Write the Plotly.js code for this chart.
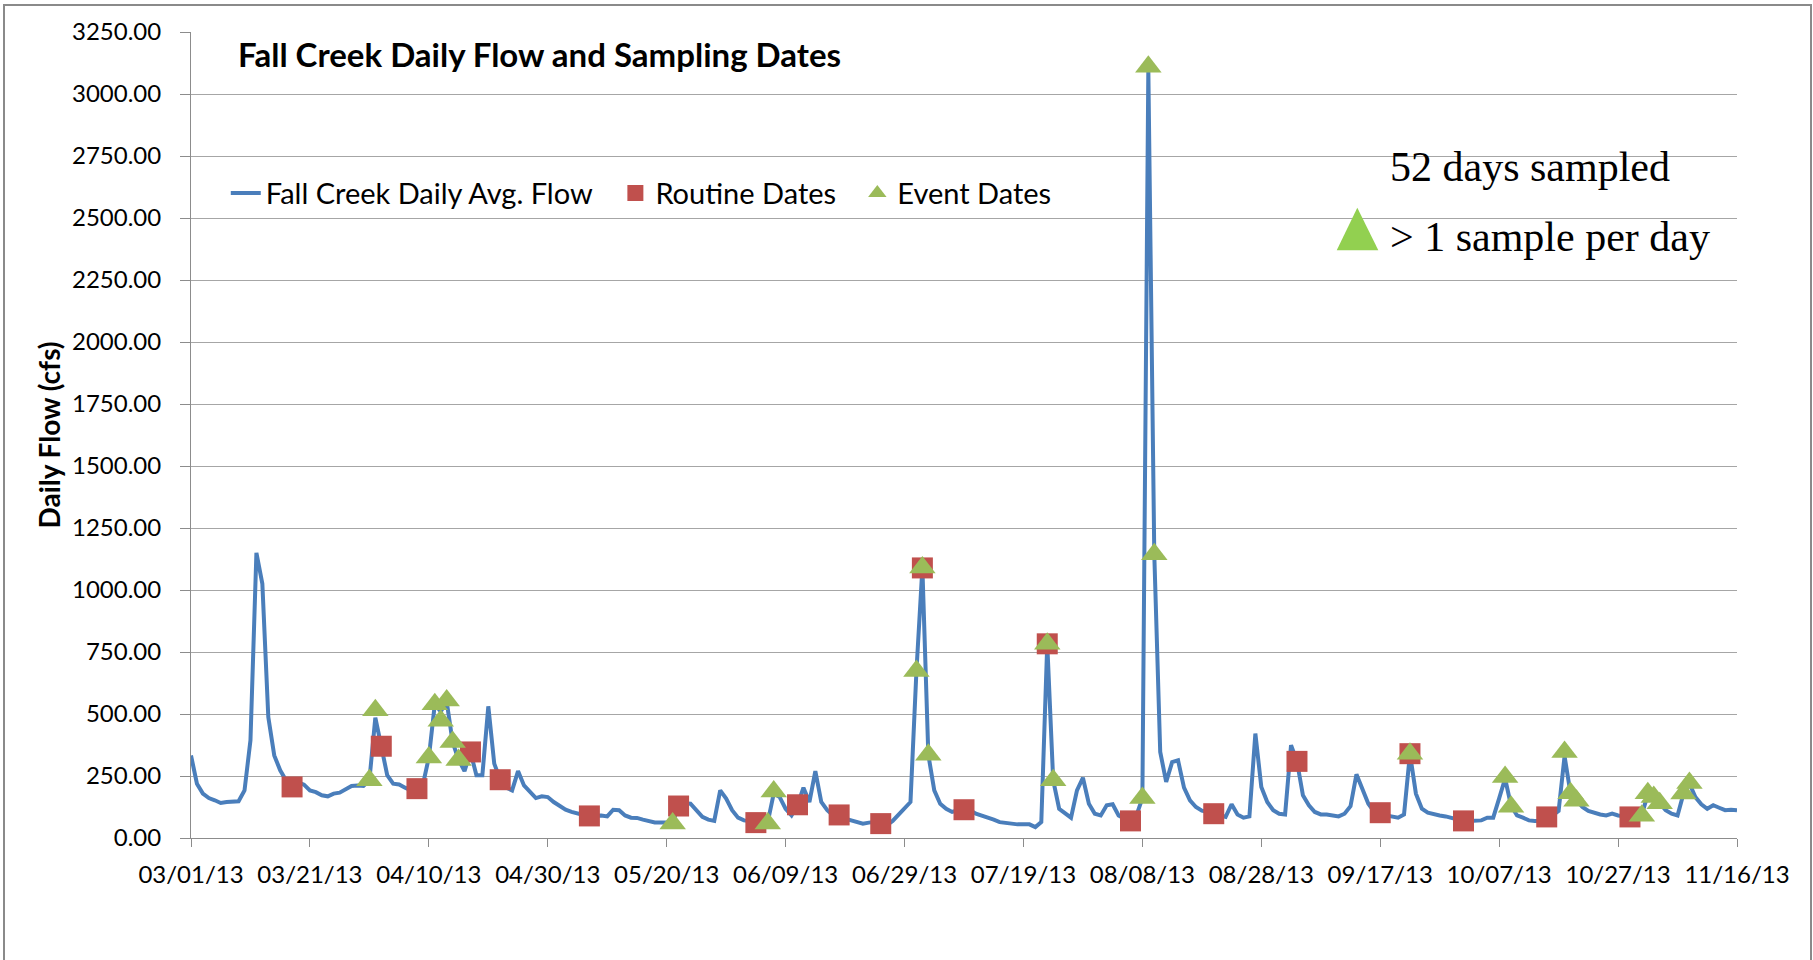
<!DOCTYPE html>
<html><head><meta charset="utf-8">
<script src="https://cdn.plot.ly/plotly-3.0.1.min.js"></script>
<style>
html,body{margin:0;padding:0;background:#fff;overflow:hidden;}
#chart{width:1813px;height:960px;}
#frame{position:absolute;left:3px;top:4px;width:1805px;height:1000px;border:2px solid #8a8a8a;pointer-events:none;}
</style></head><body>
<div id="chart"></div><div id="frame"></div>
<script>
// Daily average flow (cfs), one value per day starting 03/01/13
const startDate = '2013-03-01';
const dailyFlow = [
  333,219,179,161,152,141,145,148,148,192,
  394,1150,1025,488,333,273,232,210,225,215,
  192,185,172,168,179,183,195,210,212,210,
  233,485,370,253,219,216,203,192,199,215,
  325,539,510,550,387,315,270,347,253,253,
  531,300,235,203,192,270,212,185,161,168,
  165,145,128,114,105,98,93,90,91,91,
  87,114,112,91,82,81,74,67,63,63,
  63,63,129,140,138,112,85,74,69,192,
  159,112,82,71,67,65,69,65,179,165,
  118,91,132,203,145,270,145,112,91,90,
  78,71,64,58,62,64,60,51,69,95,
  120,145,673,1089,336,192,138,118,105,112,
  114,112,98,91,85,74,64,60,58,55,
  55,55,44,64,783,233,118,98,82,192,
  243,138,98,91,132,136,91,78,69,91,
  161,3100,1144,347,226,306,313,203,152,125,
  110,105,98,89,85,136,95,82,87,421,
  206,145,112,98,95,374,309,172,132,105,
  95,95,91,87,98,128,257,192,138,105,
  102,91,85,82,95,340,179,118,102,95,
  91,87,81,74,69,69,69,71,82,82,
  160,240,130,91,82,71,69,69,78,91,
  109,330,180,150,125,109,101,95,91,98,
  91,87,85,91,96,175,160,140,112,98,
  91,179,220,165,136,118,132,122,112,114,
  112
];

const routineDates = ['2013-03-18','2013-04-02','2013-04-08','2013-04-17','2013-04-22','2013-05-07',
  '2013-05-22','2013-06-04','2013-06-11','2013-06-18','2013-06-25','2013-07-02','2013-07-09',
  '2013-07-23','2013-08-06','2013-08-20','2013-09-03','2013-09-17','2013-09-22','2013-10-01',
  '2013-10-15','2013-10-29'];
const routineFlow = [206,370,199,347,235,89,129,62,134,93,58,1089,114,783,69,98,309,102,340,69,85,85];

const eventDates = ['2013-03-31','2013-04-01','2013-04-10','2013-04-11','2013-04-12','2013-04-13',
  '2013-04-14','2013-04-15','2013-05-21','2013-06-06','2013-06-07','2013-07-01','2013-07-02',
  '2013-07-03','2013-07-23','2013-07-24','2013-08-08','2013-08-09','2013-08-10','2013-09-22',
  '2013-10-08','2013-10-09','2013-10-18','2013-10-19','2013-10-20','2013-10-31','2013-11-01',
  '2013-11-02','2013-11-03','2013-11-07','2013-11-08'];
const eventFlow = [233,515,325,539,473,554,387,315,58,58,187,673,1091,336,783,233,161,3110,1144,340,
  246,126,347,180,150,90,180,165,140,179,222];

const seriesNames = ['Fall Creek Daily Avg. Flow','Routine Dates','Event Dates'];
const xRange = ['2013-03-01','2013-11-16'];
const yRange = [0, 3250];
const titleText = 'Fall Creek Daily Flow and Sampling Dates';
const yTitle = 'Daily Flow (cfs)';
const noteLines = ['52 days sampled','> 1 sample per day'];

const DAY = 86400000;
const axisGray = '#8c8c8c';

const traces = [
  {type:'scatter', mode:'lines', name:seriesNames[0], x0:startDate, dx:DAY, y:dailyFlow,
   line:{color:'#4A7EBB', width:4}, legend:'legend', hoverinfo:'skip'},
  {type:'scatter', mode:'markers', name:seriesNames[1], x:routineDates, y:routineFlow,
   marker:{symbol:'square', size:21, color:'#C0504D', line:{width:0}}, legend:'legend2', cliponaxis:false},
  {type:'scatter', mode:'markers', name:seriesNames[2], x:eventDates, y:eventFlow,
   marker:{symbol:'triangle-up', size:23, color:'#9BBB59', line:{width:0}}, legend:'legend3', cliponaxis:false}
];

const legendBase = {orientation:'h', xanchor:'left', yanchor:'middle', y:0.80,
  bgcolor:'rgba(0,0,0,0)', font:{family:'Lato', size:29, color:'#000'}};

const layout = {
  width:1813, height:960,
  margin:{l:191, r:76, t:32, b:122, pad:0},
  paper_bgcolor:'#fff', plot_bgcolor:'#fff',
  font:{family:'Lato', color:'#000'},
  showlegend:true,
  legend:Object.assign({}, legendBase, {x:0.0225}),
  legend2:Object.assign({}, legendBase, {x:0.2745}),
  legend3:Object.assign({}, legendBase, {x:0.431}),
  xaxis:{type:'date', range:xRange, tick0:xRange[0], dtick:20*DAY, tickformat:'%m/%d/%y',
    ticks:'outside', ticklen:8, tickwidth:1, tickcolor:axisGray,
    showline:true, linecolor:axisGray, linewidth:1, showgrid:false, zeroline:false,
    tickfont:{family:'Lato', size:24, color:'#000'}, ticklabelstandoff:7, fixedrange:true},
  yaxis:{range:yRange, tick0:0, dtick:250, tickformat:'.2f',
    ticks:'outside', ticklen:10, tickwidth:1, tickcolor:axisGray,
    showline:true, linecolor:axisGray, linewidth:1,
    showgrid:true, gridcolor:'#a6a6a6', gridwidth:1, zeroline:false,
    tickfont:{family:'Lato', size:24, color:'#000'}, ticklabelstandoff:14,
    title:{text:yTitle, font:{family:'Lato', size:28, weight:700, color:'#000'}, standoff:3},
    fixedrange:true},
  annotations:[
    {text:titleText, xref:'paper', yref:'paper', x:0.029, y:0.9723, xanchor:'left', yanchor:'middle',
     showarrow:false, font:{family:'Lato', size:33, weight:700, color:'#000'}},
    {text:noteLines[0], xref:'paper', yref:'paper', x:0.7745, y:0.8321, xanchor:'left', yanchor:'middle',
     showarrow:false, font:{family:'Liberation Serif', size:42, color:'#000'}},
    {text:noteLines[1], xref:'paper', yref:'paper', x:0.7745, y:0.746, xanchor:'left', yanchor:'middle',
     showarrow:false, font:{family:'Liberation Serif', size:42, color:'#000'}}
  ],
  shapes:[
    {type:'path', xref:'paper', yref:'paper', path:'M 0.7411 0.7292 L 0.768 0.7292 L 0.7544 0.7821 Z',
     fillcolor:'#92D050', line:{width:0}}
  ]
};

Plotly.newPlot('chart', traces, layout, {displayModeBar:false, staticPlot:true});
</script>
</body></html>
